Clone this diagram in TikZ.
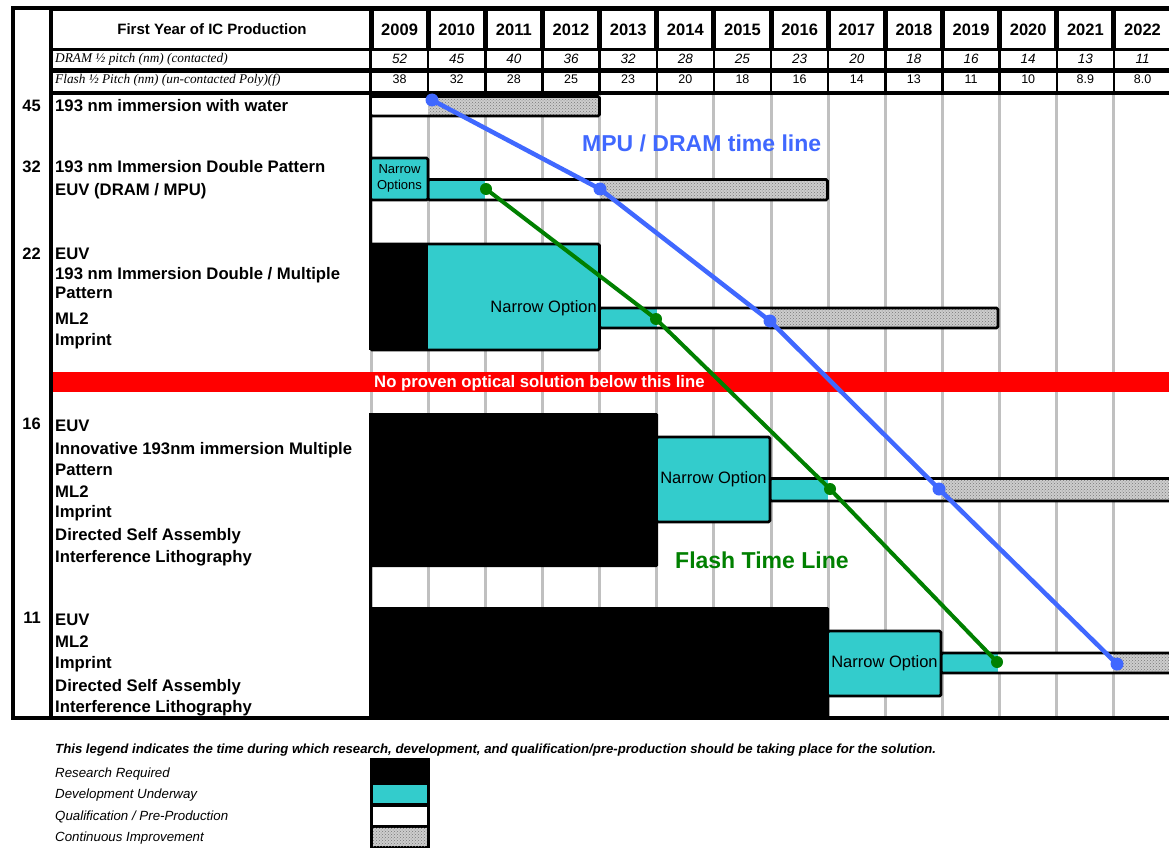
\documentclass[tikz,border=0pt]{standalone}
\usepackage{fontspec}
\setmainfont{Liberation Sans}
\newfontfamily\seriffont{Liberation Serif}
\usetikzlibrary{patterns}
\definecolor{tealc}{RGB}{51,204,204}
\definecolor{gridc}{RGB}{192,192,192}
\definecolor{mpublue}{RGB}{64,104,255}
\definecolor{flashgreen}{RGB}{0,128,0}
\definecolor{hatchbg}{RGB}{205,205,205}
\definecolor{hatchdot}{RGB}{120,120,120}
\definecolor{redbar}{RGB}{255,0,0}
\tikzset{
  lbl/.style={anchor=base west, inner sep=0, font=\fontsize{16.7}{19}\selectfont\bfseries},
  numlbl/.style={anchor=base east, inner sep=0, font=\fontsize{16.5}{19}\selectfont\bfseries},
  yearf/.style={anchor=base, inner sep=0, font=\fontsize{16.5}{19}\selectfont\bfseries},
  dramf/.style={anchor=base, inner sep=0, font=\fontsize{13.5}{15}\selectfont\itshape},
  flashf/.style={anchor=base, inner sep=0, font=\fontsize{12.5}{15}\selectfont},
  rowhead/.style={anchor=base west, inner sep=0, font=\fontsize{13.3}{15}\selectfont\seriffont\itshape},
  barline/.style={draw=black, line width=2.8pt, rounded corners=1.5pt},
  hatched/.style={fill=hatchbg, postaction={pattern=crosshatch dots, pattern color=hatchdot}},
  dotb/.style={circle, fill=mpublue, minimum size=13pt, inner sep=0},
  dotg/.style={circle, fill=flashgreen, minimum size=12pt, inner sep=0},
  nartext/.style={inner sep=0, font=\fontsize{16.5}{19}\selectfont},
  mpuline/.style={draw=mpublue, line width=4.5pt, line join=round},
  flashline/.style={draw=flashgreen, line width=4pt, line join=round},
  legtext/.style={anchor=base west, inner sep=0, font=\fontsize{13.3}{15}\selectfont\itshape},
}
\begin{document}
\begin{tikzpicture}[x=1pt,y=-1pt]
\clip (0,0) rectangle (1169,848);
\fill[white] (0,0) rectangle (1169,848);

% ---------- header ----------
\fill[black] (11,6) rectangle (1169,95);
\fill[white] (15,10) rectangle (49,716);
\fill[white] (53,11) rectangle (369,48);
\fill[white] (53,51) rectangle (369,68);
\fill[white] (53,73) rectangle (369,91);
\node[anchor=base, inner sep=0, font=\fontsize{15}{18}\selectfont\bfseries] (title) at (212,35) {First Year of IC Production};
\node[rowhead] (dramhead) at (55,63) {DRAM ½ pitch (nm) (contacted)};
\node[rowhead] (flashhead) at (55,84) {Flash ½ Pitch (nm) (un-contacted Poly)(f)};

\foreach \i/\yr/\d/\f in {0/2009/52/38,1/2010/45/32,2/2011/40/28,3/2012/36/25,4/2013/32/23,5/2014/28/20,6/2015/25/18,7/2016/23/16,8/2017/20/14,9/2018/18/13,10/2019/16/11,11/2020/14/10,12/2021/13/8.9,13/2022/11/8.0}{
  \pgfmathsetmacro\xl{371+57.15*\i}
  \pgfmathsetmacro\xr{\xl+57.15}
  \pgfmathsetmacro\xc{\xl+28.575}
  \fill[white] (\xl+2.5,11) rectangle (\xr-2.5,48);
  \fill[white] (\xl+1.2,51) rectangle (\xr-1.2,68);
  \fill[white] (\xl+1.2,73) rectangle (\xr-1.2,91);
  \node[yearf] (yr\i) at (\xc,36) {\yr};
  \node[dramf] (dr\i) at (\xc,64) {\d};
  \node[flashf] (fl\i) at (\xc,84) {\f};
}

% ---------- grid ----------
\foreach \i in {0,...,13}{
  \draw[gridc, line width=3pt] (371+57.15*\i,95) -- (371+57.15*\i,716);
}

% ---------- row 45 ----------
\fill[white] (370.5,96.5) rectangle (428,116);
\fill[hatched] (428,96.5) rectangle (599.5,116);
\draw[barline] (370.5,96.5) rectangle (599.5,116);

% ---------- row 32 ----------
\fill[tealc] (428,179.5) rectangle (485,200);
\fill[white] (485,179.5) rectangle (599.5,200);
\fill[hatched] (599.5,179.5) rectangle (827.5,200);
\draw[barline] (428,179.5) rectangle (827.5,200);
\draw[barline, fill=tealc] (370.5,158) rectangle (428,200);
\node[inner sep=0, align=center, font=\fontsize{13}{16}\selectfont] (nopts) at (399.5,178.5) {Narrow\\Options};

% ---------- row 22 ----------
\fill[tealc] (599.5,308) rectangle (656.5,328);
\fill[white] (656.5,308) rectangle (770,328);
\fill[hatched] (770,308) rectangle (998,328);
\draw[barline] (599.5,308) rectangle (998,328);
\fill[tealc, rounded corners=1.5pt] (370.5,244) rectangle (599.5,350);
\fill[black] (370.5,244) rectangle (428,350);
\draw[barline] (370.5,244) rectangle (599.5,350);
\node[nartext, anchor=base east] (nar22) at (597,312) {Narrow Option};

% ---------- row 16 ----------
\fill[black, rounded corners=1.5pt] (369,413) rectangle (658,567);
\fill[tealc] (770,478.5) rectangle (827.5,501);
\fill[white] (827.5,478.5) rectangle (941,501);
\fill[hatched] (941,478.5) rectangle (1175,501);
\draw[barline] (770,478.5) rectangle (1175,501);
\draw[barline, fill=tealc] (656.5,437) rectangle (770,522);
\node[nartext, anchor=base] (nar16) at (713.5,483) {Narrow Option};

% ---------- row 11 ----------
\fill[black, rounded corners=1.5pt] (369,607) rectangle (829,719);
\fill[tealc] (941,653) rectangle (998,673);
\fill[white] (998,653) rectangle (1113,673);
\fill[hatched] (1113,653) rectangle (1175,673);
\draw[barline] (941,653) rectangle (1175,673);
\draw[barline, fill=tealc] (827.5,631) rectangle (941,696);
\node[nartext, anchor=base] (nar11) at (884.5,667) {Narrow Option};

% ---------- frame lines ----------
\fill[black] (11,6) rectangle (15,719);
\fill[black] (49,6) rectangle (53,719);
\fill[black] (11,716) rectangle (1169,719.5);
\fill[black] (368.5,95) rectangle (372,350);
\fill[black] (368.5,413) rectangle (371.5,716);

% ---------- red line ----------
\fill[redbar] (53,372) rectangle (1169,392);
\node[anchor=base west, inner sep=0, text=white, font=\fontsize{16.7}{19}\selectfont\bfseries] (redtext) at (374,387) {No proven optical solution below this line};

% ---------- time lines ----------
\node[dotb] (m1) at (432,100) {};
\node[dotb] (m2) at (600,189) {};
\node[dotb] (m3) at (770,321) {};
\node[dotb] (m4) at (939,489) {};
\node[dotb] (m5) at (1117,664) {};
\draw[mpuline] (m1.center) -- (m2.center) -- (m3.center) -- (m4.center) -- (m5.center);
\node[dotg] (g1) at (486,189) {};
\node[dotg] (g2) at (656,319) {};
\node[dotg] (g3) at (830,489) {};
\node[dotg] (g4) at (997,662) {};
\draw[flashline] (g1.center) -- (g2.center) -- (g3.center) -- (g4.center);
\node[anchor=base west, inner sep=0, text=mpublue, font=\fontsize{23}{26}\selectfont\bfseries] (mputitle) at (582,151) {MPU / DRAM time line};
\node[anchor=base west, inner sep=0, text=flashgreen, font=\fontsize{23}{26}\selectfont\bfseries] (flashtitle) at (675,568) {Flash Time Line};

% ---------- row labels ----------
\node[numlbl] (n45) at (41,112) {45};
\node[lbl] (l45a) at (55,112) {193 nm immersion with water};

\node[numlbl] (n32) at (41,172) {32};
\node[lbl] (l32a) at (55,172) {193 nm Immersion Double Pattern};
\node[lbl] (l32b) at (55,195) {EUV (DRAM / MPU)};

\node[numlbl] (n22) at (41,259) {22};
\node[lbl] (l22a) at (55,259) {EUV};
\node[lbl] (l22b) at (55,279) {193 nm Immersion Double / Multiple};
\node[lbl] (l22c) at (55,298) {Pattern};
\node[lbl] (l22d) at (55,324) {ML2};
\node[lbl] (l22e) at (55,345) {Imprint};

\node[numlbl] (n16) at (41,429) {16};
\node[lbl] (l16a) at (55,431) {EUV};
\node[lbl] (l16b) at (55,454) {Innovative 193nm immersion Multiple};
\node[lbl] (l16c) at (55,475) {Pattern};
\node[lbl] (l16d) at (55,497) {ML2};
\node[lbl] (l16e) at (55,517) {Imprint};
\node[lbl] (l16f) at (55,540) {Directed Self Assembly};
\node[lbl] (l16g) at (55,562) {Interference Lithography};

\node[numlbl] (n11) at (41,623) {11};
\node[lbl] (l11a) at (55,625) {EUV};
\node[lbl] (l11b) at (55,647) {ML2};
\node[lbl] (l11c) at (55,668) {Imprint};
\node[lbl] (l11d) at (55,691) {Directed Self Assembly};
\node[lbl] (l11e) at (55,712) {Interference Lithography};

% ---------- legend ----------
\node[anchor=base west, inner sep=0, font=\fontsize{13.2}{15}\selectfont\bfseries\itshape] (legtitle) at (55,753) {This legend indicates the time during which research, development, and qualification/pre-production should be taking place for the solution.};
\node[legtext] (leg1) at (55,777) {Research Required};
\node[legtext] (leg2) at (55,798) {Development Underway};
\node[legtext] (leg3) at (55,820) {Qualification / Pre-Production};
\node[legtext] (leg4) at (55,841) {Continuous Improvement};
\fill[black] (369.5,758) rectangle (429.5,848);
\fill[tealc] (372.5,784.5) rectangle (426.5,802.5);
\fill[white] (372.5,806.5) rectangle (426.5,824.5);
\fill[hatched] (372.5,827.5) rectangle (426.5,846);
\end{tikzpicture}
\end{document}
